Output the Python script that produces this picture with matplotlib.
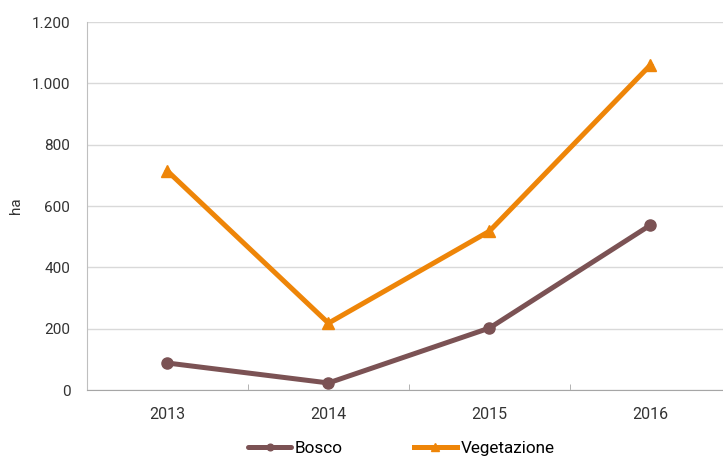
import matplotlib.pyplot as plt
import numpy as np
from matplotlib.ticker import FuncFormatter

plt.rcParams['font.family'] = ['Roboto', 'DejaVu Sans']

years = ['2013', '2014', '2015', '2016']
bosco = [88, 23, 202, 538]
vegetazione = [714, 218, 518, 1060]

fig = plt.figure(figsize=(7.23, 4.59), dpi=100)
ax = fig.add_axes([0.1203, 0.1503, 0.8907, 0.8017])

x = np.arange(len(years))
ax.plot(x, bosco, color='#7B5254', lw=3.6, marker='o', markersize=8,
        label='Bosco', solid_capstyle='round')
ax.plot(x, vegetazione, color='#EE8508', lw=3.6, marker='^', markersize=9,
        label='Vegetazione')

ax.set_xlim(-0.5, 3.5)
ax.set_ylim(0, 1200)
ax.set_yticks(range(0, 1201, 200))
ax.yaxis.set_major_formatter(FuncFormatter(lambda v, p: f'{int(v):,}'.replace(',', '.')))
ax.set_xticks(x)
ax.set_xticklabels(years)
ax.set_xticks(np.arange(-0.5, 3.6, 1), minor=True)

ax.grid(axis='y', color='#D9D9D9', lw=1)
ax.set_axisbelow(True)
for s in ['top', 'right']:
    ax.spines[s].set_visible(False)
ax.spines['left'].set_color('#BFBFBF')
ax.spines['bottom'].set_color('#A6A6A6')
ax.tick_params(axis='y', length=0, labelsize=11, pad=12, colors='#333333')
ax.tick_params(axis='x', which='major', length=0, labelsize=11.5, pad=12, colors='#333333')
ax.tick_params(axis='x', which='minor', length=4, direction='in', color='#A6A6A6')
ax.set_ylabel('ha', fontsize=11, color='#333333', labelpad=6)

fig.legend(loc='center', bbox_to_anchor=(0.555, 0.022), ncol=2, frameon=False,
           fontsize=12.3, handlelength=2.5, columnspacing=4.2, handletextpad=0.2,
           markerscale=0.6)

fig.savefig('out.png', dpi=100)
